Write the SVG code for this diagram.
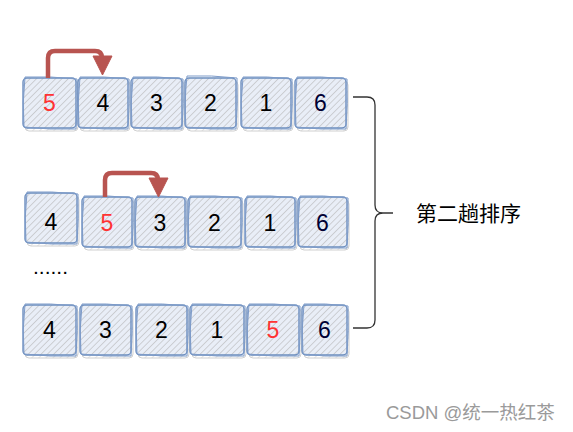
<svg xmlns="http://www.w3.org/2000/svg" width="573" height="432" viewBox="0 0 573 432">
<defs>
<pattern id="hatch" patternUnits="userSpaceOnUse" width="4.5" height="4.5" patternTransform="rotate(45)">
<rect width="4.5" height="4.5" fill="#e9eef7"/>
<line x1="0" y1="0" x2="0" y2="4.5" stroke="#b0b0b0" stroke-width="1"/>
</pattern>
<pattern id="shadehatch" patternUnits="userSpaceOnUse" width="5" height="5" patternTransform="rotate(45)">
<line x1="0" y1="0" x2="0" y2="5" stroke="#c8c8c8" stroke-width="1"/>
</pattern>
</defs>
<style>
.sh{fill:url(#shadehatch);stroke:#d0d0d0;stroke-width:1}
.bx{fill:url(#hatch);stroke:#6c8ebf;stroke-width:1.4}
.sk{fill:none;stroke:#7d9bc9;stroke-width:1}
.num{font-family:"Liberation Sans",Arial,sans-serif;font-size:23px;text-anchor:middle;fill:#000}
.red{fill:#ff3333}
.nav{fill:#000033}
.arr{fill:none;stroke:#b85450;stroke-width:4.5}
.head{fill:#b85450;stroke:#b85450;stroke-width:1}
.br{fill:none;stroke:#333;stroke-width:1.3}
.lbl{font-family:"Noto Sans CJK SC","Noto Sans CJK JP",sans-serif;font-size:21px;fill:#000}
.wm{font-family:"Liberation Sans","Noto Sans CJK SC",sans-serif;font-size:18.5px;fill:#9a9a9a}
</style>

<!-- Row 1 -->
<g id="r1b1"><rect class="sh" x="25" y="81" width="53" height="50" rx="4"/><rect class="bx" x="23" y="78" width="53" height="50" rx="4"/><path class="sk" d="M25,77 Q50,76 77,79 Q78,103 76,129 Q50,130 24,127 Q22,103 25,77"/><text class="num red" x="49.5" y="111">5</text></g>
<g id="r1b2"><rect class="sh" x="80" y="81" width="50" height="50" rx="4"/><rect class="bx" x="78" y="78" width="50" height="50" rx="4"/><path class="sk" d="M80,77 Q104,76 129,79 Q130,103 128,129 Q104,130 79,127 Q77,103 80,77"/><text class="num" x="103" y="111">4</text></g>
<g id="r1b3"><rect class="sh" x="133" y="81" width="51" height="50" rx="4"/><rect class="bx" x="131" y="78" width="51" height="50" rx="4"/><path class="sk" d="M133,77 Q157,76 183,79 Q184,103 182,129 Q157,130 132,127 Q130,103 133,77"/><text class="num" x="156.5" y="111">3</text></g>
<g id="r1b4"><rect class="sh" x="187" y="81" width="51" height="50" rx="4"/><rect class="bx" x="185" y="78" width="51" height="50" rx="4"/><path class="sk" d="M187,76 Q211,75 237,78 Q238,103 236,129 Q211,130 186,127 Q184,103 187,76"/><text class="num" x="210.5" y="111">2</text></g>
<g id="r1b5"><rect class="sh" x="243" y="81" width="50" height="50" rx="4"/><rect class="bx" x="241" y="78" width="50" height="50" rx="4"/><path class="sk" d="M243,77 Q267,76 292,79 Q293,103 291,129 Q267,130 242,127 Q240,103 243,77"/><text class="num" x="266" y="111">1</text></g>
<g id="r1b6"><rect class="sh" x="297" y="81" width="51" height="50" rx="4"/><rect class="bx" x="295" y="78" width="51" height="50" rx="4"/><path class="sk" d="M297,77 Q321,76 347,79 Q348,103 346,129 Q321,130 296,127 Q294,103 297,77"/><text class="num nav" x="320.5" y="111">6</text></g>

<!-- Row 2 -->
<g id="r2b1"><rect class="sh" x="27" y="196" width="52" height="50" rx="4"/><rect class="bx" x="25" y="193" width="52" height="50" rx="4"/><path class="sk" d="M27,192 Q51,191 78,194 Q79,218 77,244 Q51,245 26,242 Q24,218 27,192"/><text class="num" x="51" y="230">4</text></g>
<g id="r2b2"><rect class="sh" x="84" y="200" width="50" height="50" rx="4"/><rect class="bx" x="82" y="197" width="50" height="50" rx="4"/><path class="sk" d="M84,196 Q108,195 133,198 Q134,222 132,248 Q108,249 83,246 Q81,222 84,196"/><text class="num red" x="107" y="231">5</text></g>
<g id="r2b3"><rect class="sh" x="137" y="200" width="50" height="50" rx="4"/><rect class="bx" x="135" y="197" width="50" height="50" rx="4"/><path class="sk" d="M137,196 Q161,195 186,198 Q187,222 185,248 Q161,249 136,246 Q134,222 137,196"/><text class="num" x="160" y="231">3</text></g>
<g id="r2b4"><rect class="sh" x="190" y="200" width="53" height="50" rx="4"/><rect class="bx" x="188" y="197" width="53" height="50" rx="4"/><path class="sk" d="M190,196 Q214,195 242,198 Q243,222 241,248 Q214,249 189,246 Q187,222 190,196"/><text class="num" x="214.5" y="231">2</text></g>
<g id="r2b5"><rect class="sh" x="247" y="200" width="50" height="50" rx="4"/><rect class="bx" x="245" y="197" width="50" height="50" rx="4"/><path class="sk" d="M247,196 Q271,195 296,198 Q297,222 295,248 Q271,249 246,246 Q244,222 247,196"/><text class="num" x="270" y="231">1</text></g>
<g id="r2b6"><rect class="sh" x="300" y="200" width="49" height="50" rx="4"/><rect class="bx" x="298" y="197" width="49" height="50" rx="4"/><path class="sk" d="M300,196 Q323,195 348,198 Q349,222 347,248 Q323,249 299,246 Q297,222 300,196"/><text class="num nav" x="322.5" y="231">6</text></g>

<!-- dots -->
<text id="dots" class="num" x="33" y="274" style="text-anchor:start;font-size:21px">......</text>

<!-- Row 3 -->
<g id="r3b1"><rect class="sh" x="25" y="308" width="53" height="50" rx="4"/><rect class="bx" x="23" y="305" width="53" height="50" rx="4"/><path class="sk" d="M25,304 Q50,303 77,306 Q78,330 76,356 Q50,357 24,354 Q22,330 25,304"/><text class="num" x="49.5" y="338">4</text></g>
<g id="r3b2"><rect class="sh" x="82" y="308" width="51" height="50" rx="4"/><rect class="bx" x="80" y="305" width="51" height="50" rx="4"/><path class="sk" d="M82,304 Q106,303 132,306 Q133,330 131,356 Q106,357 81,354 Q79,330 82,304"/><text class="num" x="105.5" y="338">3</text></g>
<g id="r3b3"><rect class="sh" x="138" y="308" width="51" height="50" rx="4"/><rect class="bx" x="136" y="305" width="51" height="50" rx="4"/><path class="sk" d="M138,304 Q162,303 188,306 Q189,330 187,356 Q162,357 137,354 Q135,330 138,304"/><text class="num" x="161.5" y="338">2</text></g>
<g id="r3b4"><rect class="sh" x="192" y="308" width="54" height="50" rx="4"/><rect class="bx" x="190" y="305" width="54" height="50" rx="4"/><path class="sk" d="M192,304 Q217,303 245,306 Q246,330 244,356 Q217,357 191,354 Q189,330 192,304"/><text class="num" x="217" y="338">1</text></g>
<g id="r3b5"><rect class="sh" x="249" y="308" width="52" height="50" rx="4"/><rect class="bx" x="247" y="305" width="52" height="50" rx="4"/><path class="sk" d="M249,304 Q273,303 300,306 Q301,330 299,356 Q273,357 248,354 Q246,330 249,304"/><text class="num red" x="273" y="338">5</text></g>
<g id="r3b6"><rect class="sh" x="304" y="308" width="45" height="50" rx="4"/><rect class="bx" x="302" y="305" width="45" height="50" rx="4"/><path class="sk" d="M304,304 Q325,303 348,306 Q349,330 347,356 Q325,357 303,354 Q301,330 304,304"/><text class="num nav" x="324.5" y="338">6</text></g>

<!-- connectors -->
<g id="connectors">
<path class="arr" d="M48,78 V58 Q48,51 55,51 H95 Q102,51 102,58 V62"/>
<polygon class="head" points="93,56 112,56 102.5,75"/>
<path class="arr" d="M105,197 V180 Q105,173 112,173 H151 Q158,173 158,180 V183"/>
<polygon class="head" points="149,178 168,178 158.5,197"/>
<path class="br" d="M353,97 H367 Q375,97 375,105 V205 Q375,213 383,213 H393 M383,213 Q375,213 375,221 V320 Q375,328 367,328 H353"/>
</g>

<text id="label" class="lbl" x="416" y="221">第二趟排序</text>
<text id="wm" class="wm" x="386" y="419">CSDN @统一热红茶</text>
</svg>
